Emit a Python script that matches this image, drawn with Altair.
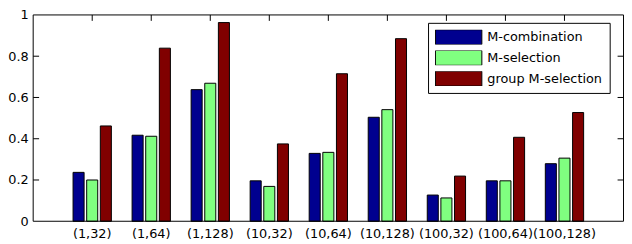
import altair as alt
import pandas as pd

categories = ["(1,32)", "(1,64)", "(1,128)", "(10,32)", "(10,64)", "(10,128)",
              "(100,32)", "(100,64)", "(100,128)"]
series = ["M-combination", "M-selection", "group M-selection"]
m_combination = [0.237, 0.417, 0.638, 0.196, 0.329, 0.504, 0.127, 0.196, 0.279]
m_selection = [0.200, 0.412, 0.669, 0.169, 0.334, 0.541, 0.113, 0.196, 0.306]
group_m_selection = [0.462, 0.839, 0.963, 0.375, 0.715, 0.885, 0.219, 0.407, 0.527]
colors = ["#00008F", "#80FF80", "#800000"]
y_ticks = [0, 0.2, 0.4, 0.6, 0.8, 1]
inner_ticks = [0.2, 0.4, 0.6, 0.8]

rows = []
for s, vals in zip(series, [m_combination, m_selection, group_m_selection]):
    for c, v in zip(categories, vals):
        rows.append({"config": c, "method": s, "value": v})
df = pd.DataFrame(rows)

W, H = 598, 209
FONT = "DejaVu Sans"

x_scale = alt.Scale(domain=categories, paddingOuter=0.5, paddingInner=0)
y_scale = alt.Scale(domain=[0, 1], nice=False)
x_axis = alt.Axis(title=None, ticks=False, domain=False, grid=False,
                  labelAngle=0, labelPadding=6, labelFont=FONT,
                  labelFontSize=13, labelColor="black")
y_axis = alt.Axis(title=None, values=y_ticks, format="~g", ticks=False,
                  domain=False, grid=False, labelPadding=5, labelFont=FONT,
                  labelFontSize=13, labelColor="black")

bars = alt.Chart(df).mark_bar(stroke="black", strokeWidth=1).encode(
    x=alt.X("config:N", scale=x_scale, sort=categories, axis=x_axis),
    xOffset=alt.XOffset("method:N", sort=series,
                        scale=alt.Scale(domain=series, paddingInner=0.19, paddingOuter=0.76)),
    y=alt.Y("value:Q", scale=y_scale, axis=y_axis),
    color=alt.Color("method:N", sort=series,
                    scale=alt.Scale(domain=series, range=colors),
                    legend=alt.Legend(title=None, orient="none", legendX=400, legendY=8,
                                      symbolType="M-1,-0.32H1V0.32H-1Z", symbolSize=2209,
                                      clipHeight=15,
                                      symbolStrokeColor="black", symbolStrokeWidth=1,
                                      symbolOpacity=1, labelFont=FONT, labelFontSize=13,
                                      labelColor="black", labelOffset=5, rowPadding=6,
                                      padding=7, strokeColor="black", fillColor="white",
                                      cornerRadius=0, labelLimit=0)),
)

tick_df = pd.DataFrame({"value": inner_ticks})
cat_df = pd.DataFrame({"config": categories})
one = pd.DataFrame({"k": [0]})

left_ticks = alt.Chart(tick_df).mark_rule(color="black", strokeWidth=1).encode(
    y=alt.Y("value:Q", scale=y_scale, axis=y_axis), x=alt.value(0), x2=alt.value(6))
right_ticks = alt.Chart(tick_df).mark_rule(color="black", strokeWidth=1).encode(
    y=alt.Y("value:Q", scale=y_scale, axis=y_axis), x=alt.value(W - 6), x2=alt.value(W))
top_ticks = alt.Chart(cat_df).mark_rule(color="black", strokeWidth=1).encode(
    x=alt.X("config:N", scale=x_scale, sort=categories, axis=x_axis),
    y=alt.value(0), y2=alt.value(6))

frame_base = alt.Chart(one).mark_rule(color="black", strokeWidth=1)
frame_top = frame_base.encode(x=alt.value(0), x2=alt.value(W), y=alt.value(0))
frame_bottom = frame_base.encode(x=alt.value(0), x2=alt.value(W), y=alt.value(H))
frame_left = frame_base.encode(x=alt.value(0), y=alt.value(0), y2=alt.value(H))
frame_right = frame_base.encode(x=alt.value(W), y=alt.value(0), y2=alt.value(H))

chart = alt.layer(bars, left_ticks, right_ticks, top_ticks,
                  frame_top, frame_bottom, frame_left, frame_right).properties(
    width=W, height=H,
    background="white",
    autosize=alt.AutoSizeParams(type="none"),
    padding={"left": 25.5, "top": 5.5, "right": 0.5, "bottom": 21.5},
).configure_view(stroke=None)

chart.save("out.html", embed_options={"renderer": "svg", "actions": False})
